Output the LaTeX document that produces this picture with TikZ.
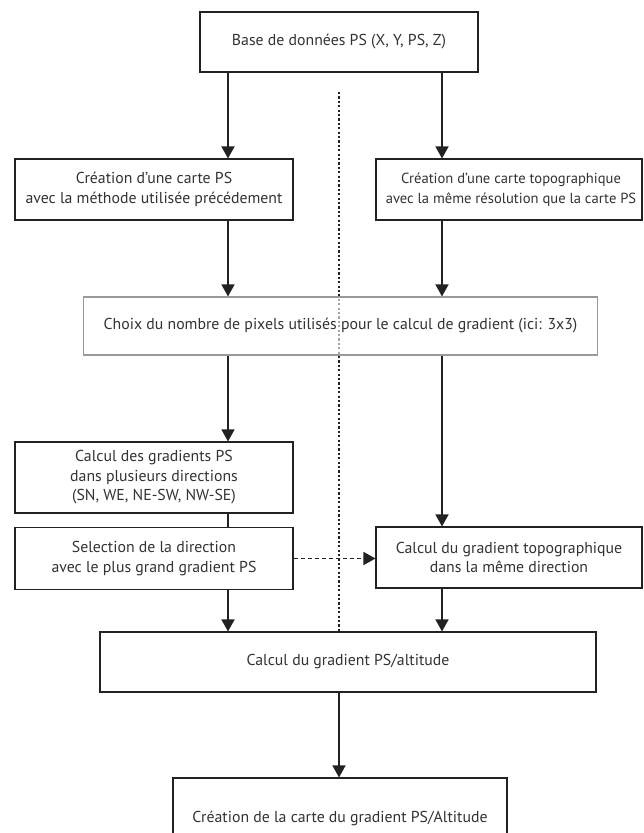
\documentclass[tikz,border=0pt]{standalone}
\usepackage{fontspec}
\setmainfont{PT Sans}
\usetikzlibrary{arrows.meta}
\definecolor{ink}{HTML}{222222}
\definecolor{txt}{HTML}{333333}
\tikzset{
  box/.style={draw=ink, line width=1.1pt, fill=white, align=center, text=txt,
    font=\fontsize{15.8}{19.5}\selectfont, inner sep=0pt},
  arr/.style={draw=ink, line width=1.5pt, -{Triangle[length=12pt,width=13pt]}},
  plain/.style={draw=ink, line width=1.5pt},
  dotline/.style={draw=ink, line width=2.4pt, dash pattern=on 2.2pt off 2.2pt},
  dasharr/.style={draw=ink, line width=1.6pt, dash pattern=on 4pt off 3pt, -{Triangle[length=12pt,width=13pt]}},
}
\begin{document}
\begin{tikzpicture}[x=1pt,y=-1pt]
\useasboundingbox (0,0) rectangle (643,833);
\clip (0,0) rectangle (643,833);
% x positions
\coordinate (xl) at (228,0);
\coordinate (xr) at (442,0);
\coordinate (xm) at (339,0);
\coordinate (dtop) at (339,92);
\node[box, minimum width=278pt, minimum height=60pt] (top) at (339,42) {Base de données PS (X, Y, PS, Z)};
\node[box, minimum width=496pt, minimum height=60pt] (C) at (348,662) {Calcul du gradient PS/altitude};
% dotted separator (behind boxes)
\draw[dotline] (dtop) -- (C.north -| dtop);
\node[box, minimum width=278pt, minimum height=61pt] (L1) at (154,189.5) {Création d’une carte PS\\avec la méthode utilisée précédement};
\node[box, minimum width=266pt, minimum height=61pt] (R1) at (509,189.5) {};
\node[text=txt, align=center, font=\fontsize{14.6}{19.5}\selectfont, inner sep=0pt] (R1t) at (511,189.5) {Création d’une carte topographique\\avec la même résolution que la carte PS};
\node[box, draw=gray!80, fill opacity=0.6, text opacity=1, minimum width=514pt, minimum height=58pt] (Ch) at (340.5,326) {Choix du nombre de pixels utilisés pour le calcul de gradient (ici: 3x3)};
\node[box, minimum width=278pt, minimum height=71pt] (L2) at (154,477.5) {Calcul des gradients PS\\dans plusieurs directions\\(SN, WE, NE-SW, NW-SE)};
\node[box, minimum width=278pt, minimum height=62pt] (L3) at (154,558.5) {Selection de la direction\\avec le plus grand gradient PS};
\node[box, minimum width=266pt, minimum height=61pt] (R2) at (509,557.5) {Calcul du gradient topographique\\dans la même direction};
\node[box, minimum width=334pt, minimum height=80pt] (B) at (340,818) {Création de la carte du gradient PS/Altitude};
% connectors
\draw[arr] (top.south -| xl) -- (L1.north -| xl);
\draw[arr] (top.south -| xr) -- (R1.north -| xr);
\draw[arr] (L1.south -| xl) -- (Ch.north -| xl);
\draw[arr] (R1.south -| xr) -- (Ch.north -| xr);
\draw[arr] (Ch.south -| xl) -- (L2.north -| xl);
\draw[arr] (Ch.south -| xr) -- (R2.north -| xr);
\draw[plain] (L2.south -| xl) -- (L3.north -| xl);
\draw[dasharr] (L3.east) -- (L3.east -| R2.west);
\draw[arr] (L3.south -| xl) -- (C.north -| xl);
\draw[arr] (R2.south -| xr) -- (C.north -| xr);
\draw[arr] (C.south -| xm) -- (B.north -| xm);
\end{tikzpicture}
\end{document}
